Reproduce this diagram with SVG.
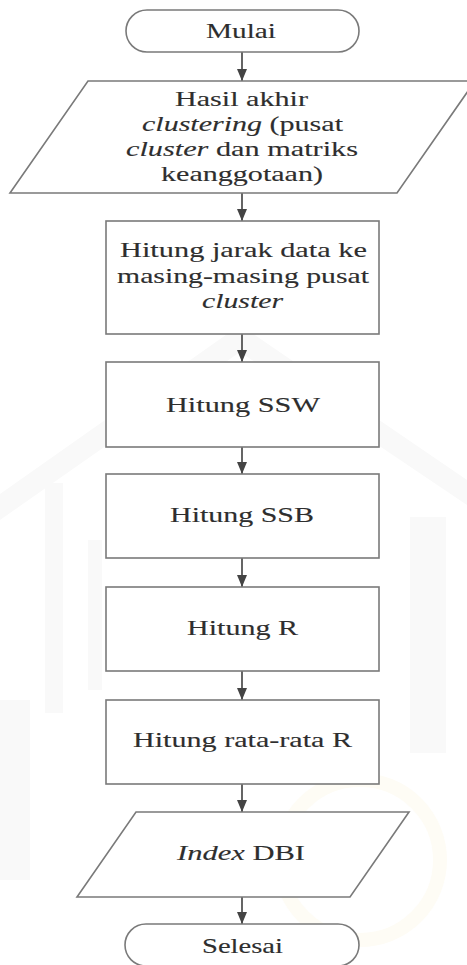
<svg xmlns="http://www.w3.org/2000/svg" width="467" height="965" viewBox="0 0 467 965">
  <defs>
    <marker id="arrow" viewBox="0 0 12 10" refX="12" refY="5" markerWidth="12" markerHeight="10" markerUnits="userSpaceOnUse" orient="auto">
      <path d="M0,0 L12,5 L0,10 Z" fill="#444"/>
    </marker>
    <style>
      .shape { fill: #fff; stroke: #7a7a7a; stroke-width: 1.6; }
      .wm { fill: #f9f9f9; stroke: none; }
      .wmy { fill: none; stroke: #fefcf5; stroke-width: 14; }
      .edge { stroke: #555; stroke-width: 1.8; fill: none; marker-end: url(#arrow); }
      .lbl { font-family: "Liberation Serif", "Times New Roman", Times, serif; font-size: 21px; fill: #2e2e2e; stroke: #2e2e2e; stroke-width: 0.12; text-anchor: middle; }
      .it { font-style: italic; }
    </style>
  </defs>

  <rect width="467" height="965" fill="#fff"/>

  <!-- faint background emblem -->
  <g id="emblem">
    <path class="wm" d="M240,325 L467,480 L467,505 L240,352 L0,520 L0,494 Z"/>
    <rect class="wm" x="45" y="483" width="18" height="230"/>
    <rect class="wm" x="88" y="540" width="14" height="150"/>
    <rect class="wm" x="410" y="517" width="36" height="236"/>
    <rect class="wm" x="0" y="700" width="30" height="180"/>
    <circle class="wmy" cx="360" cy="860" r="80"/>
  </g>

  <!-- connectors -->
  <g id="connectors">
    <line class="edge" x1="242" y1="52" x2="242" y2="81"/>
    <line class="edge" x1="242" y1="193" x2="242" y2="221"/>
    <line class="edge" x1="242" y1="334" x2="242" y2="362"/>
    <line class="edge" x1="242" y1="447" x2="242" y2="474"/>
    <line class="edge" x1="242" y1="558" x2="242" y2="587"/>
    <line class="edge" x1="242" y1="671" x2="242" y2="700"/>
    <line class="edge" x1="242" y1="784" x2="242" y2="812"/>
    <line class="edge" x1="242" y1="897" x2="242" y2="924"/>
  </g>

  <g id="mulai">
    <rect class="shape" x="126" y="10" width="233" height="42" rx="21" ry="21"/>
    <text class="lbl" x="241" y="38" textLength="70" lengthAdjust="spacingAndGlyphs">Mulai</text>
  </g>

  <g id="hasil-akhir">
    <polygon class="shape" points="88,81 475,81 397,193 10,193"/>
    <text class="lbl" x="241.5" y="106" textLength="133" lengthAdjust="spacingAndGlyphs">Hasil akhir</text>
    <text class="lbl" x="242.5" y="131" textLength="201" lengthAdjust="spacingAndGlyphs"><tspan class="it">clustering</tspan> (pusat</text>
    <text class="lbl" x="242" y="156" textLength="232" lengthAdjust="spacingAndGlyphs"><tspan class="it">cluster</tspan> dan matriks</text>
    <text class="lbl" x="242" y="181" textLength="162" lengthAdjust="spacingAndGlyphs">keanggotaan)</text>
  </g>

  <g id="hitung-jarak">
    <rect class="shape" x="106" y="221" width="273" height="113"/>
    <text class="lbl" x="243.5" y="257" textLength="247" lengthAdjust="spacingAndGlyphs">Hitung jarak data ke</text>
    <text class="lbl" x="243" y="282.5" textLength="252" lengthAdjust="spacingAndGlyphs">masing-masing pusat</text>
    <text class="lbl it" x="242.5" y="308" textLength="81" lengthAdjust="spacingAndGlyphs">cluster</text>
  </g>

  <g id="hitung-ssw">
    <rect class="shape" x="106" y="362" width="273" height="85"/>
    <text class="lbl" x="243" y="412" textLength="154" lengthAdjust="spacingAndGlyphs">Hitung SSW</text>
  </g>

  <g id="hitung-ssb">
    <rect class="shape" x="106" y="474" width="273" height="84"/>
    <text class="lbl" x="242" y="522" textLength="144" lengthAdjust="spacingAndGlyphs">Hitung SSB</text>
  </g>

  <g id="hitung-r">
    <rect class="shape" x="106" y="587" width="273" height="84"/>
    <text class="lbl" x="242.5" y="635" textLength="111" lengthAdjust="spacingAndGlyphs">Hitung R</text>
  </g>

  <g id="hitung-rata-rata-r">
    <rect class="shape" x="106" y="700" width="273" height="84"/>
    <text class="lbl" x="242.5" y="747" textLength="219" lengthAdjust="spacingAndGlyphs">Hitung rata-rata R</text>
  </g>

  <g id="index-dbi">
    <polygon class="shape" points="136,812 409,812 350,897 77,897"/>
    <text class="lbl" x="241" y="860" textLength="128" lengthAdjust="spacingAndGlyphs"><tspan class="it">Index</tspan> DBI</text>
  </g>

  <g id="selesai">
    <rect class="shape" x="125" y="924" width="234" height="42" rx="21" ry="21"/>
    <text class="lbl" x="242.5" y="953" textLength="81" lengthAdjust="spacingAndGlyphs">Selesai</text>
  </g>
</svg>
